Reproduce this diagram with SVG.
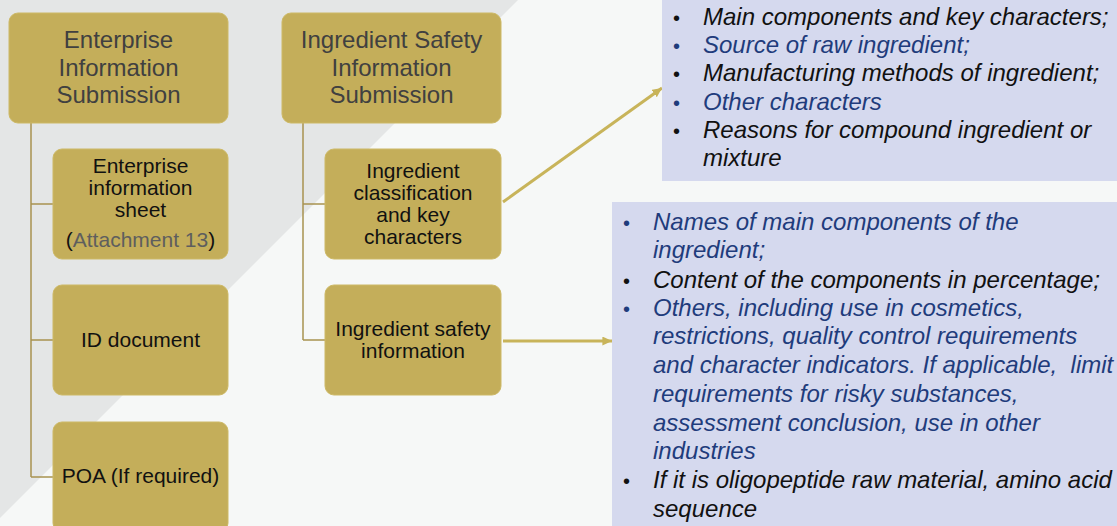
<svg xmlns="http://www.w3.org/2000/svg" width="1117" height="526" viewBox="0 0 1117 526">
<style>
.node{fill:#c4ae5a;stroke:#cdb966;stroke-width:1}
.top{font-family:"Liberation Sans",Arial,sans-serif;font-size:24px;fill:#404040;text-anchor:middle}
.sub{font-family:"Liberation Sans",Arial,sans-serif;font-size:21px;fill:#111;text-anchor:middle}
.conn{fill:none;stroke:#a89250;stroke-width:1.5}
.arrow{fill:none;stroke:#c8b45a;stroke-width:3}
.box{fill:#d5d9ee}
.bl{font-family:"Liberation Sans",Arial,sans-serif;font-size:24px;font-style:italic}
.k{fill:#111}
.b{fill:#1f3c7c}
.dot{font-family:"Liberation Sans",Arial,sans-serif;font-size:20px}
</style>
<defs>
<marker id="ah" markerWidth="3.2" markerHeight="3" refX="3.2" refY="1.5" orient="auto" markerUnits="strokeWidth">
<path d="M0,0 L3.2,1.5 L0,3 z" fill="#c8b45a"/>
</marker>
</defs>
<rect x="0" y="0" width="1117" height="526" fill="#f6f8f7"/>
<polygon points="0,0 518,0 0,518" fill="#e4e6e6"/>

<g id="connectors">
<path class="conn" d="M31,123 V477 M31,204 H53 M31,340 H53 M31,477 H53"/>
<path class="conn" d="M303,123 V340 M303,204 H325 M303,340 H325"/>
<line class="arrow" x1="503" y1="202" x2="662" y2="88" marker-end="url(#ah)"/>
<line class="arrow" x1="503" y1="341" x2="612" y2="341" marker-end="url(#ah)"/>
</g>

<g id="enterprise-submission">
<rect class="node" x="9" y="13" width="219" height="110" rx="9"/>
<text class="top" x="118.5" y="48">Enterprise</text>
<text class="top" x="118.5" y="75.5">Information</text>
<text class="top" x="118.5" y="103">Submission</text>
</g>

<g id="ingredient-submission">
<rect class="node" x="282" y="13" width="219" height="110" rx="9"/>
<text class="top" x="391.5" y="48">Ingredient Safety</text>
<text class="top" x="391.5" y="75.5">Information</text>
<text class="top" x="391.5" y="103">Submission</text>
</g>

<g id="enterprise-sheet">
<rect class="node" x="53" y="149" width="175" height="110" rx="9"/>
<text class="sub" x="140.5" y="173">Enterprise</text>
<text class="sub" x="140.5" y="195">information</text>
<text class="sub" x="140.5" y="217">sheet</text>
<text class="sub" x="140.5" y="247">(<tspan fill="#5e5e5e">Attachment 13</tspan>)</text>
</g>

<g id="id-document">
<rect class="node" x="53" y="285" width="175" height="110" rx="9"/>
<text class="sub" x="140.5" y="347">ID document</text>
</g>

<g id="poa">
<rect class="node" x="53" y="422" width="175" height="110" rx="9"/>
<text class="sub" x="140.5" y="483">POA (If required)</text>
</g>

<g id="ingredient-classification">
<rect class="node" x="325" y="149" width="176" height="110" rx="9"/>
<text class="sub" x="413" y="178">Ingredient</text>
<text class="sub" x="413" y="200">classification</text>
<text class="sub" x="413" y="222">and key</text>
<text class="sub" x="413" y="244">characters</text>
</g>

<g id="ingredient-safety">
<rect class="node" x="325" y="285" width="176" height="110" rx="9"/>
<text class="sub" x="413" y="336">Ingredient safety</text>
<text class="sub" x="413" y="358">information</text>
</g>

<g id="classification-details">
<rect class="box" x="662" y="0" width="455" height="181"/>
<text class="dot k" x="673" y="25">•</text>
<text class="bl k" x="703" y="25">Main components and key characters;</text>
<text class="dot b" x="673" y="53">•</text>
<text class="bl b" x="703" y="53">Source of raw ingredient;</text>
<text class="dot k" x="673" y="81">•</text>
<text class="bl k" x="703" y="81">Manufacturing methods of ingredient;</text>
<text class="dot b" x="673" y="110">•</text>
<text class="bl b" x="703" y="110">Other characters</text>
<text class="dot k" x="673" y="138">•</text>
<text class="bl k" x="703" y="138">Reasons for compound ingredient or</text>
<text class="bl k" x="703" y="166">mixture</text>
</g>

<g id="safety-details">
<rect class="box" x="612" y="202" width="505" height="324"/>
<text class="dot b" x="623" y="230">•</text>
<text class="bl b" x="653" y="230">Names of main components of the</text>
<text class="bl b" x="653" y="258">ingredient;</text>
<text class="dot k" x="623" y="288">•</text>
<text class="bl k" x="653" y="288">Content of the components in percentage;</text>
<text class="dot b" x="623" y="316">•</text>
<text class="bl b" x="653" y="316">Others, including use in cosmetics,</text>
<text class="bl b" x="653" y="344">restrictions, quality control requirements</text>
<text class="bl b" x="653" y="373" xml:space="preserve">and character indicators. If applicable,  limit</text>
<text class="bl b" x="653" y="402">requirements for risky substances,</text>
<text class="bl b" x="653" y="431">assessment conclusion, use in other</text>
<text class="bl b" x="653" y="459">industries</text>
<text class="dot k" x="623" y="488">•</text>
<text class="bl k" x="653" y="488">If it is oligopeptide raw material, amino acid</text>
<text class="bl k" x="653" y="517">sequence</text>
</g>
</svg>
